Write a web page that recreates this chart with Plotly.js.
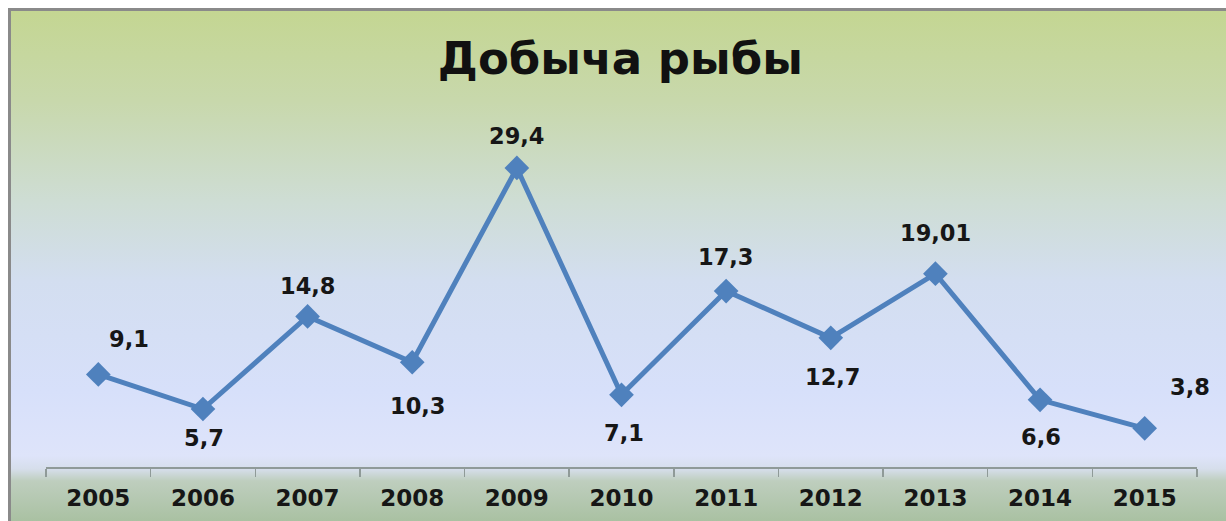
<!DOCTYPE html>
<html>
<head>
<meta charset="utf-8">
<script src="https://cdn.plot.ly/plotly-3.0.1.min.js"></script>
<style>
  html, body { margin: 0; padding: 0; background: #ffffff; }
  #frame {
    position: absolute; left: 8px; top: 8px; width: 1218px; height: 513px;
    border-left: 3px solid #8a8a8a; border-top: 3px solid #8a8a8a;
    box-sizing: border-box;
    background: linear-gradient(to bottom,
      rgb(196,214,146) 0px,
      rgb(200,216,172) 90px,
      rgb(206,221,212) 190px,
      rgb(211,222,240) 270px,
      rgb(215,224,250) 380px,
      rgb(222,228,250) 445px,
      rgb(214,222,235) 458px,
      rgb(190,206,190) 470px,
      rgb(168,192,160) 513px);
  }
  #chart { position: absolute; left: 0; top: 0; width: 1226px; height: 521px; }
</style>
</head>
<body>
<div id="frame"></div>
<div id="chart"></div>
<script>
// Data
const years = ['2005','2006','2007','2008','2009','2010','2011','2012','2013','2014','2015'];
const catch_values = [9.1, 5.7, 14.8, 10.3, 29.4, 7.1, 17.3, 12.7, 19.01, 6.6, 3.8];
const titleText = 'Добыча рыбы';

// Style: label offsets from each marker (pixels; +dy = up)
const labelDx = [31, 1, 0, 6, 0, 2, 0, 2, 0, 1, 45];
const labelDy = [35, -29, 30, -44, 32, -38, 34, -39, 41, -37, 41];

const FONT = 'DejaVu Sans, Verdana, sans-serif';
const LINE = 'rgb(79,129,189)';

// category axis: annotation x given as the category index
const annotations = years.map((yr, i) => ({
  x: i, y: catch_values[i], xref: 'x', yref: 'y',
  text: String(catch_values[i]).replace('.', ','),
  showarrow: false, xanchor: 'center', yanchor: 'middle',
  xshift: labelDx[i], yshift: labelDy[i],
  font: {family: FONT, size: 22.5, color: '#161616', weight: 'bold'}
}));

const trace = {
  type: 'scatter', mode: 'lines+markers',
  x: years, y: catch_values,
  line: {color: LINE, width: 5},
  marker: {symbol: 'diamond', size: 19, color: LINE},
  hoverinfo: 'skip', showlegend: false
};

const layout = {
  width: 1226, height: 521,
  margin: {l: 46, r: 29, t: 111, b: 54, pad: 0},
  paper_bgcolor: 'rgba(0,0,0,0)',
  plot_bgcolor: 'rgba(0,0,0,0)',
  title: {
    text: titleText,
    x: 0.506, xanchor: 'center',
    y: 1 - 58/521, yanchor: 'middle', yref: 'container',
    font: {family: FONT, size: 45, color: '#111111', weight: 'bold'}
  },
  xaxis: {
    type: 'category',
    range: [-0.5, 10.5],
    showgrid: false, zeroline: false,
    showline: true, linecolor: '#8f9a98', linewidth: 1.5,
    ticks: 'outside', tickson: 'boundaries', ticklen: 8, tickwidth: 1.5, tickcolor: '#8f9a98',
    ticklabelstandoff: 10,
    tickfont: {family: FONT, size: 23, color: '#161616', weight: 'bold'},
    fixedrange: true
  },
  yaxis: {
    range: [0, 35], visible: false, showgrid: false, zeroline: false, fixedrange: true
  },
  annotations: annotations
};

Plotly.newPlot('chart', [trace], layout, {displayModeBar: false, staticPlot: true});
</script>
</body>
</html>
